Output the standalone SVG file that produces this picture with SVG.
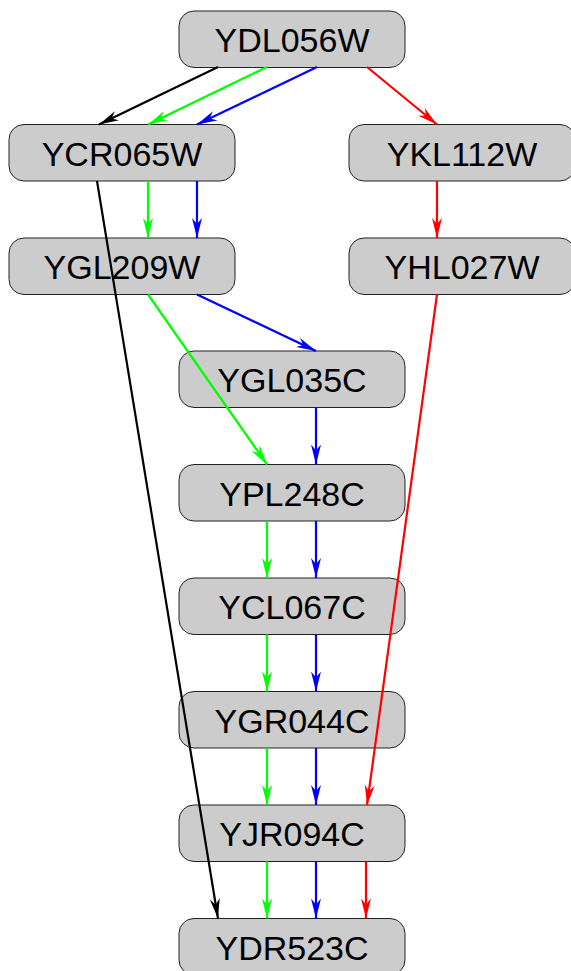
<svg xmlns="http://www.w3.org/2000/svg" width="571" height="971" viewBox="0 0 571 971">
<style>
.n rect{fill:#cccccc;stroke:#222;stroke-width:1}
.n text{font-family:"Liberation Sans",Arial,sans-serif;font-size:34px;fill:#000;text-anchor:middle}
.e line{stroke-width:2.2;fill:none}
.k{stroke:#000}.g{stroke:#00ff00}.b{stroke:#0000ff}.r{stroke:#ff0000}
</style>
<defs>
<marker id="ak" markerUnits="userSpaceOnUse" markerWidth="22" markerHeight="12" refX="20" refY="6" orient="auto"><path d="M0,1 L20,6 L0,11 L6,6 Z" fill="#000"/></marker>
<marker id="ag" markerUnits="userSpaceOnUse" markerWidth="22" markerHeight="12" refX="20" refY="6" orient="auto"><path d="M0,1 L20,6 L0,11 L6,6 Z" fill="#00ff00"/></marker>
<marker id="ab" markerUnits="userSpaceOnUse" markerWidth="22" markerHeight="12" refX="20" refY="6" orient="auto"><path d="M0,1 L20,6 L0,11 L6,6 Z" fill="#0000ff"/></marker>
<marker id="ar" markerUnits="userSpaceOnUse" markerWidth="22" markerHeight="12" refX="20" refY="6" orient="auto"><path d="M0,1 L20,6 L0,11 L6,6 Z" fill="#ff0000"/></marker>
</defs>
<g id="YDL056W" class="n"><rect x="179" y="11" width="226" height="56.5" rx="15"/><text x="292" y="52">YDL056W</text></g>
<g id="YCR065W" class="n"><rect x="9" y="124.5" width="226" height="56.5" rx="15"/><text x="122" y="165.5">YCR065W</text></g>
<g id="YKL112W" class="n"><rect x="349" y="124.5" width="226" height="56.5" rx="15"/><text x="462" y="165.5">YKL112W</text></g>
<g id="YGL209W" class="n"><rect x="9" y="238" width="226" height="56.5" rx="15"/><text x="122" y="279">YGL209W</text></g>
<g id="YHL027W" class="n"><rect x="349" y="238" width="226" height="56.5" rx="15"/><text x="462" y="279">YHL027W</text></g>
<g id="YGL035C" class="n"><rect x="179" y="351" width="226" height="56.5" rx="15"/><text x="292" y="392">YGL035C</text></g>
<g id="YPL248C" class="n"><rect x="179" y="464.5" width="226" height="56.5" rx="15"/><text x="292" y="505.5">YPL248C</text></g>
<g id="YCL067C" class="n"><rect x="179" y="578" width="226" height="56.5" rx="15"/><text x="292" y="619">YCL067C</text></g>
<g id="YGR044C" class="n"><rect x="179" y="691.5" width="226" height="56.5" rx="15"/><text x="292" y="732.5">YGR044C</text></g>
<g id="YJR094C" class="n"><rect x="179" y="805" width="226" height="56.5" rx="15"/><text x="292" y="846">YJR094C</text></g>
<g id="YDR523C" class="n"><rect x="179" y="918.5" width="226" height="56.5" rx="15"/><text x="292" y="959.5">YDR523C</text></g>
<g id="edges" class="e">
<line class="k" x1="218" y1="67" x2="99" y2="124.5" marker-end="url(#ak)"/>
<line class="g" x1="267" y1="67" x2="148" y2="124.5" marker-end="url(#ag)"/>
<line class="b" x1="317" y1="67" x2="197" y2="124.5" marker-end="url(#ab)"/>
<line class="r" x1="367" y1="67" x2="437" y2="124.5" marker-end="url(#ar)"/>
<line class="g" x1="148" y1="181" x2="148" y2="238" marker-end="url(#ag)"/>
<line class="b" x1="197" y1="181" x2="197" y2="238" marker-end="url(#ab)"/>
<line class="r" x1="437" y1="181" x2="437" y2="238" marker-end="url(#ar)"/>
<line class="k" x1="97" y1="181" x2="218" y2="918.5" marker-end="url(#ak)"/>
<line class="b" x1="197" y1="294.5" x2="316" y2="351" marker-end="url(#ab)"/>
<line class="g" x1="148" y1="294.5" x2="267" y2="464.5" marker-end="url(#ag)"/>
<line class="r" x1="437" y1="294.5" x2="367" y2="805" marker-end="url(#ar)"/>
<line class="b" x1="316" y1="407.5" x2="316" y2="464.5" marker-end="url(#ab)"/>
<line class="g" x1="267" y1="521" x2="267" y2="578" marker-end="url(#ag)"/>
<line class="b" x1="316" y1="521" x2="316" y2="578" marker-end="url(#ab)"/>
<line class="g" x1="267" y1="634.5" x2="267" y2="691.5" marker-end="url(#ag)"/>
<line class="b" x1="316" y1="634.5" x2="316" y2="691.5" marker-end="url(#ab)"/>
<line class="g" x1="267" y1="748" x2="267" y2="805" marker-end="url(#ag)"/>
<line class="b" x1="316" y1="748" x2="316" y2="805" marker-end="url(#ab)"/>
<line class="g" x1="267" y1="861.5" x2="267" y2="918.5" marker-end="url(#ag)"/>
<line class="b" x1="316" y1="861.5" x2="316" y2="918.5" marker-end="url(#ab)"/>
<line class="r" x1="366" y1="861.5" x2="366" y2="918.5" marker-end="url(#ar)"/>
</g>
</svg>
